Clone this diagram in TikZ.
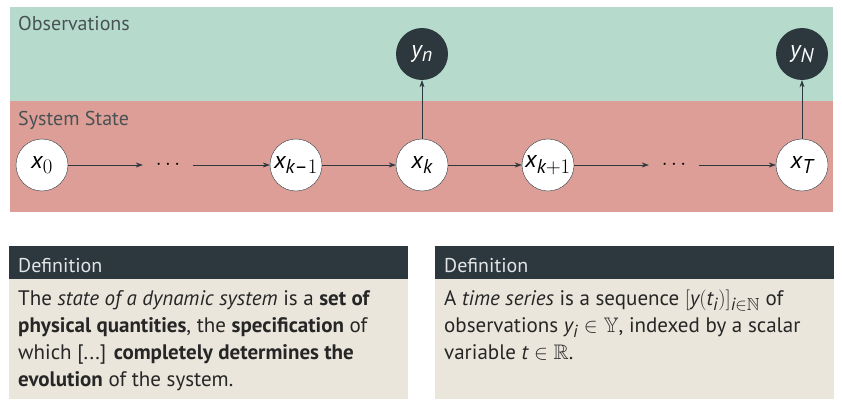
\documentclass[tikz,border=0pt]{standalone}
\usepackage{amssymb}
\usepackage{fontspec}
\setmainfont{PT Sans}
\usepackage[italic]{mathastext}
\usetikzlibrary{arrows.meta}

\definecolor{obsgreen}{RGB}{182,219,204}
\definecolor{statered}{RGB}{220,158,150}
\definecolor{darkslate}{RGB}{44,56,62}
\definecolor{defback}{RGB}{234,230,220}
\definecolor{labelgray}{RGB}{72,82,84}
\definecolor{headtext}{RGB}{226,229,229}

\begin{document}
\begin{tikzpicture}[x=1pt,y=-1pt,
	statenode/.style={circle,draw=darkslate,fill=white,minimum size=52pt,inner sep=0pt,font=\fontsize{24}{28}\selectfont},
	obsnode/.style={circle,fill=darkslate,text=white,minimum size=52pt,inner sep=0pt,font=\fontsize{24}{28}\selectfont},
	dotsnode/.style={minimum width=50pt,inner sep=0pt,font=\fontsize{20}{24}\selectfont},
	flow/.style={-{Stealth[length=7pt,width=5pt]},darkslate,semithick},
	bandlabel/.style={anchor=base west,inner sep=0pt,text=labelgray,font=\fontsize{20}{24}\selectfont},
	deftitle/.style={anchor=base west,inner sep=0pt,text=headtext,font=\fontsize{20}{24}\selectfont},
	deftext/.style={anchor=base west,inner sep=0pt,align=left,text=black!85,font=\fontsize{21}{27}\selectfont}]
	%    \draw[step=10pt,gray,very thin] (0,0) grid (842,414);
	\useasboundingbox (0,0) rectangle (842,414);
	
	% bands
	\fill[obsgreen] (10,7) rectangle (833,101);
	\fill[statered] (10,101) rectangle (833,212);
	\node[bandlabel] (obslabel) at (18,31) {Observations};
	\node[bandlabel] (statelabel) at (18,126) {System State};
	
	% chain of states
	\node[statenode] (x0) at (42,165) {$x_0$};
	\node[dotsnode] (dotsa) at (168,165) {$\cdots$};
	\node[statenode] (xkm) at (296,165) {$x_{k-1}$};
	\node[statenode] (xk) at (422,165) {$x_k$};
	\node[statenode] (xkp) at (548,165) {$x_{k+1}$};
	\node[dotsnode] (dotsb) at (674,165) {$\cdots$};
	\node[statenode] (xT) at (802,165) {$x_T$};
	
	% observations
	\node[obsnode] (yn) at (422,54) {$y_n$};
	\node[obsnode] (yN) at (802,54) {$y_N$};
	
	\draw[flow] (x0) -- (dotsa);
	\draw[flow] (dotsa) -- (xkm);
	\draw[flow] (xkm) -- (xk);
	\draw[flow] (xk) -- (xkp);
	\draw[flow] (xkp) -- (dotsb);
	\draw[flow] (dotsb) -- (xT);
	\draw[flow] (xk) -- (yn);
	\draw[flow] (xT) -- (yN);
	
	% definition boxes (text placed by its last line)
	\fill[darkslate] (9,246) rectangle (408,279);
	\fill[defback] (9,279) rectangle (408,399);
	\node[deftitle] (titlea) at (18,272) {Definition};
	\node[deftext] (texta) at (18,386) {The \textit{state of a dynamic system} is a \textbf{set of}\\
		\textbf{physical quantities}, the \textbf{specification} of\\
		which [...] \textbf{completely determines the}\\
		\textbf{evolution} of the system.};
	
	\fill[darkslate] (435,246) rectangle (834,279);
	\fill[defback] (435,279) rectangle (834,399);
	\node[deftitle] (titleb) at (444,272) {Definition};
	\node[deftext] (textb) at (444,359) {A \textit{time series} is a sequence $[y(t_i)]_{i\in\mathbb{N}}$ of\\
		observations $y_i\in\mathbb{Y}$, indexed by a scalar\\
		variable $t\in\mathbb{R}$.};
	
\end{tikzpicture}
\end{document}
